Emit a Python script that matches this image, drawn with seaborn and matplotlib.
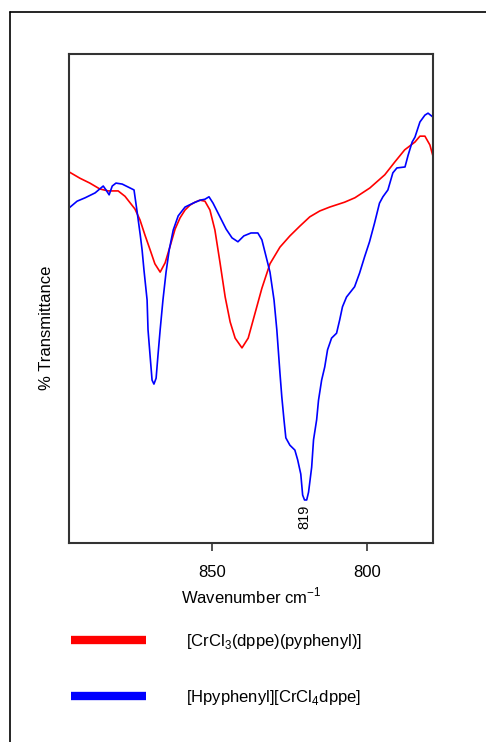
import matplotlib
matplotlib.use("Agg")
import matplotlib.pyplot as plt
from matplotlib.lines import Line2D
import seaborn as sns
import pandas as pd

# IR spectra, 780-895 cm-1 region (wavenumber, % transmittance)
red_wn = [895.9, 892.4, 889.2, 886.0, 883.3, 880.1, 877.9, 874.7, 873.1, 871.5,
          869.8, 868.3, 866.6, 865.0, 863.4, 861.8, 860.2, 858.6, 857.0, 855.4,
          853.8, 852.2, 850.6, 849.0, 847.4, 845.7, 844.1, 842.5, 840.3, 838.3,
          836.1, 833.9, 831.3, 828.1, 824.9, 821.7, 818.5, 815.3, 812.1, 807.3,
          804.0, 799.2, 794.4, 791.2, 788.0, 784.7, 783.1, 781.5, 779.9, 778.9]
red_t = [75.9, 74.6, 73.6, 72.4, 72.0, 72.0, 70.9, 68.3, 66.1, 63.0,
         59.9, 57.1, 55.4, 57.3, 60.7, 64.2, 66.5, 68.1, 69.1, 69.7,
         70.1, 69.9, 68.1, 64.0, 57.5, 50.3, 45.2, 41.9, 39.9, 41.9,
         47.0, 52.1, 57.1, 60.5, 62.8, 64.8, 66.7, 67.9, 68.7, 69.7,
         70.6, 72.6, 75.3, 77.9, 80.4, 82.0, 83.2, 83.2, 81.4, 79.1]

blue_wn = [895.9, 893.3, 890.7, 887.5, 884.9, 884.0, 883.0, 882.0, 880.8, 878.8,
           876.9, 875.0, 874.0, 873.0, 872.4, 871.8, 870.8, 870.5, 869.8, 869.2,
           868.6, 867.9, 867.3, 866.6, 865.7, 864.7, 863.7, 862.4, 860.8, 858.6,
           856.0, 853.8, 852.2, 850.9, 849.6, 847.7, 845.4, 843.5, 841.6, 839.7,
           837.4, 835.2, 833.9, 832.6, 831.3, 830.0, 829.1, 828.1, 827.5, 826.8,
           826.2, 824.9, 823.3, 822.4, 821.4, 820.8, 820.2, 819.5, 818.9, 817.9,
           817.3, 816.3, 815.7, 814.7, 813.7, 812.8, 811.5, 809.9, 808.9, 808.0,
           806.7, 804.1, 802.5, 800.9, 799.3, 797.7, 796.1, 795.0, 793.4, 791.8,
           790.5, 787.9, 786.9, 785.6, 784.7, 783.1, 781.5, 780.5, 778.9]
blue_t = [68.5, 69.9, 70.6, 71.6, 73.0, 72.2, 71.2, 73.0, 73.6, 73.4,
          72.8, 72.2, 67.7, 63.0, 59.9, 55.8, 49.7, 43.6, 38.0, 33.3,
          32.5, 33.7, 38.4, 43.6, 49.7, 55.4, 59.9, 64.0, 66.9, 68.7,
          69.5, 70.1, 70.3, 70.8, 69.5, 67.1, 64.2, 62.4, 61.6, 62.8,
          63.4, 63.4, 62.0, 58.7, 55.4, 49.7, 43.6, 34.8, 29.9, 25.2,
          21.5, 20.0, 19.0, 17.0, 14.1, 9.8, 8.8, 8.8, 10.4, 15.5,
          21.1, 25.2, 29.2, 33.3, 36.0, 39.5, 41.9, 42.9, 45.6, 48.3,
          50.3, 52.4, 55.2, 58.5, 61.6, 65.4, 69.5, 70.8, 72.2, 75.7,
          76.7, 76.9, 79.3, 82.0, 83.0, 86.1, 87.5, 87.9, 87.1]

labels = ["[CrCl$_3$(dppe)(pyphenyl)]", "[Hpyphenyl][CrCl$_4$dppe]"]
colors = ["#ff0000", "#0000ff"]
x_ticks = [850, 800]
peak_label = "819"

sns.set_theme(style="white")
plt.rcParams["font.family"] = ["Liberation Sans", "DejaVu Sans"]
plt.rcParams["mathtext.fontset"] = "custom"
plt.rcParams["mathtext.rm"] = "Liberation Sans"
plt.rcParams["text.color"] = "black"
plt.rcParams["axes.labelcolor"] = "black"
plt.rcParams["xtick.color"] = "black"

df = pd.concat([
    pd.DataFrame({"wn": red_wn, "t": red_t, "sample": labels[0]}),
    pd.DataFrame({"wn": blue_wn, "t": blue_t, "sample": labels[1]}),
])

fig = plt.figure(figsize=(4.86, 7.42), dpi=100)
ax = fig.add_axes([69 / 486, 1 - 543 / 742, (433 - 69) / 486, (543 - 54) / 742])

sns.lineplot(data=df, x="wn", y="t", hue="sample", palette=colors,
             estimator=None, sort=False, linewidth=1.2, legend=False, ax=ax)

ax.set_xlim(895.9, 778.9)
ax.set_ylim(0, 100)
ax.set_xticks(x_ticks)
ax.set_xticklabels([str(v) for v in x_ticks], fontsize=12)
ax.set_yticks([])
ax.tick_params(axis="x", direction="out", length=6, width=1.2, color="#333333",
               bottom=True, pad=10, labelcolor="black")
for sp in ax.spines.values():
    sp.set_color("#333333")
    sp.set_linewidth(1.5)

ax.set_xlabel("Wavenumber cm$^{-1}$", fontsize=12, labelpad=4)
ax.set_ylabel("% Transmittance", fontsize=12)
ax.yaxis.set_label_coords(-0.042, 0.44)

# Label the strongest band of the blue spectrum
i_min = blue_t.index(min(blue_t))
ax.annotate(peak_label, xy=(blue_wn[i_min], blue_t[i_min]), xytext=(0, -3),
            textcoords="offset points", rotation=90, ha="center", va="top",
            fontsize=10.5, color="black")

# Legend below the plot
handles = [Line2D([], [], color=c, linewidth=6, solid_capstyle="butt") for c in colors]
leg = fig.legend(handles, labels, loc="upper left",
                 bbox_to_anchor=(71 / 486, 1 - 632 / 742),
                 frameon=False, fontsize=12, handlelength=4.5, handletextpad=2.4,
                 labelspacing=2.2, borderpad=0, borderaxespad=0)
for t in leg.get_texts():
    t.set_color("black")

# Outer frame
fig.add_artist(Line2D([10 / 486, 1.0], [1 - 12 / 742, 1 - 12 / 742],
                      color="black", linewidth=1.2, transform=fig.transFigure))
fig.add_artist(Line2D([10 / 486, 10 / 486], [0.0, 1 - 12 / 742],
                      color="black", linewidth=1.2, transform=fig.transFigure))

fig.savefig("out.png", dpi=100)
